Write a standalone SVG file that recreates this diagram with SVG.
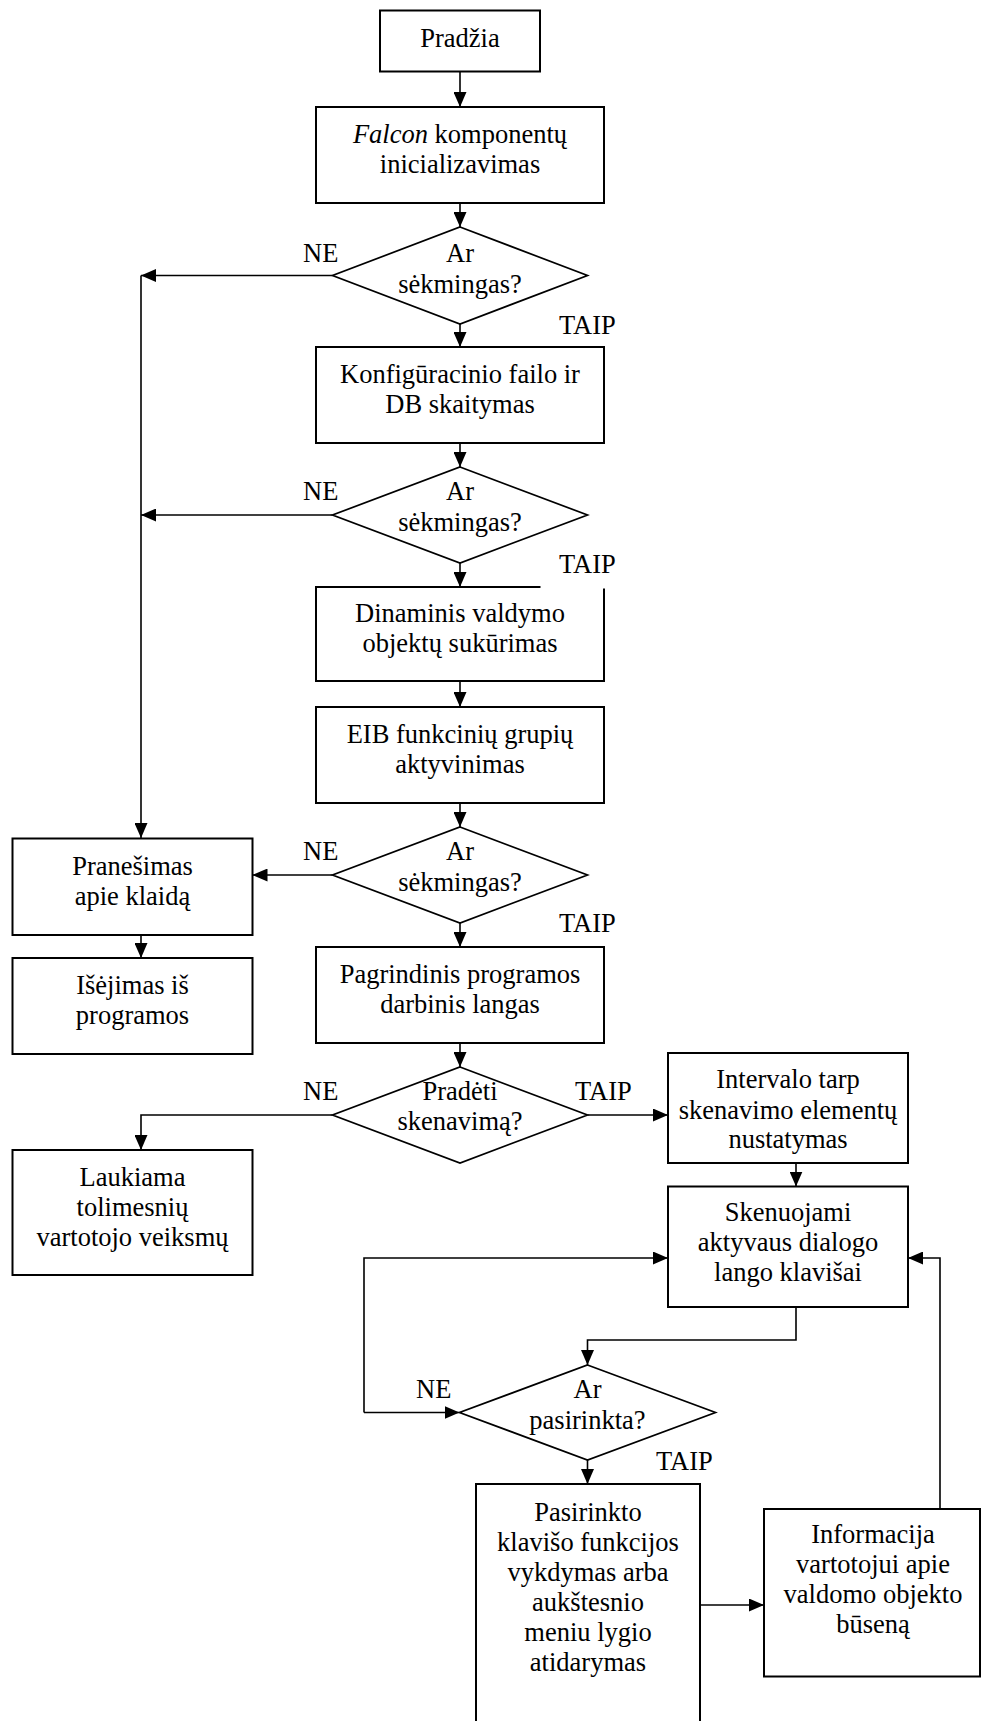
<svg xmlns="http://www.w3.org/2000/svg" width="982" height="1721" viewBox="0 0 982 1721">
  <style>
    .box { fill: #ffffff; stroke: #000000; stroke-width: 2; }
    .dia { fill: #ffffff; stroke: #000000; stroke-width: 1.7; }
    .edge { fill: none; stroke: #000000; stroke-width: 1.6; }
    text { font-family: "Liberation Serif", "Times New Roman", serif; font-size: 26.5px; fill: #000000; }
    .c { text-anchor: middle; }
    .it { font-style: italic; }
  </style>
  <defs>
    <marker id="arrow" markerUnits="userSpaceOnUse" markerWidth="15" markerHeight="13" refX="15" refY="6.5" orient="auto">
      <path d="M0,0 L15,6.5 L0,13 Z" fill="#000000"/>
    </marker>
  </defs>
  <rect width="982" height="1721" fill="#ffffff"/>

  <!-- connectors -->
  <g id="connectors">
    <path class="edge" d="M460 71.5 V107" marker-end="url(#arrow)"/>
    <path class="edge" d="M460 203 V227" marker-end="url(#arrow)"/>
    <path class="edge" d="M460 324 V347" marker-end="url(#arrow)"/>
    <path class="edge" d="M332.5 275.5 H141" marker-end="url(#arrow)"/>
    <path class="edge" d="M141 275.5 V838" marker-end="url(#arrow)"/>
    <path class="edge" d="M460 443 V467" marker-end="url(#arrow)"/>
    <path class="edge" d="M332.5 515 H141" marker-end="url(#arrow)"/>
    <path class="edge" d="M460 563 V587" marker-end="url(#arrow)"/>
    <path class="edge" d="M460 681 V707" marker-end="url(#arrow)"/>
    <path class="edge" d="M460 803 V827" marker-end="url(#arrow)"/>
    <path class="edge" d="M332.5 875 H252.5" marker-end="url(#arrow)"/>
    <path class="edge" d="M460 923 V947" marker-end="url(#arrow)"/>
    <path class="edge" d="M141 935 V958" marker-end="url(#arrow)"/>
    <path class="edge" d="M460 1043 V1067" marker-end="url(#arrow)"/>
    <path class="edge" d="M587.5 1115 H668" marker-end="url(#arrow)"/>
    <path class="edge" d="M332.5 1115 H141 V1150" marker-end="url(#arrow)"/>
    <path class="edge" d="M796 1163 V1186.5" marker-end="url(#arrow)"/>
    <path class="edge" d="M796 1307 V1340 H587.5 V1365" marker-end="url(#arrow)"/>
    <path class="edge" d="M364 1412.5 H459.5" marker-end="url(#arrow)"/>
    <path class="edge" d="M364 1412.5 V1258 H668" marker-end="url(#arrow)"/>
    <path class="edge" d="M587.5 1460 V1484" marker-end="url(#arrow)"/>
    <path class="edge" d="M700 1605 H764" marker-end="url(#arrow)"/>
    <path class="edge" d="M940 1509 V1258 H908" marker-end="url(#arrow)"/>
  </g>

  <!-- process boxes -->
  <g id="start">
    <rect class="box" x="380" y="10.5" width="160" height="61"/>
    <text class="c" x="460" y="47">Pradžia</text>
  </g>
  <g id="init">
    <rect class="box" x="316" y="107" width="288" height="96"/>
    <text class="c" x="460" y="143"><tspan class="it">Falcon</tspan> komponentų</text>
    <text class="c" x="460" y="173">inicializavimas</text>
  </g>
  <g id="check1">
    <polygon class="dia" points="460,227 587.5,275.5 460,324 332.5,275.5"/>
    <text class="c" x="460" y="262">Ar</text>
    <text class="c" x="460" y="293">sėkmingas?</text>
    <text x="303" y="262">NE</text>
    <text x="559" y="334">TAIP</text>
  </g>
  <g id="config">
    <rect class="box" x="316" y="347" width="288" height="96"/>
    <text class="c" x="460" y="383">Konfigūracinio failo ir</text>
    <text class="c" x="460" y="413">DB skaitymas</text>
  </g>
  <g id="check2">
    <polygon class="dia" points="460,467 587.5,515 460,563 332.5,515"/>
    <text class="c" x="460" y="500">Ar</text>
    <text class="c" x="460" y="531">sėkmingas?</text>
    <text x="303" y="500">NE</text>
  </g>
  <g id="objects">
    <rect class="box" x="316" y="587" width="288" height="94"/>
    <text class="c" x="460" y="622">Dinaminis valdymo</text>
    <text class="c" x="460" y="652">objektų sukūrimas</text>
  </g>
  <g id="check2-yes">
    <rect x="540.5" y="548" width="100" height="40.5" fill="#ffffff"/>
    <text x="559" y="573">TAIP</text>
  </g>
  <g id="eib">
    <rect class="box" x="316" y="707" width="288" height="96"/>
    <text class="c" x="460" y="743">EIB funkcinių grupių</text>
    <text class="c" x="460" y="773">aktyvinimas</text>
  </g>
  <g id="check3">
    <polygon class="dia" points="460,827 587.5,875 460,923 332.5,875"/>
    <text class="c" x="460" y="860">Ar</text>
    <text class="c" x="460" y="891">sėkmingas?</text>
    <text x="303" y="860">NE</text>
    <text x="559" y="932">TAIP</text>
  </g>
  <g id="error">
    <rect class="box" x="12.5" y="838.5" width="240" height="96.5"/>
    <text class="c" x="132.5" y="874.5">Pranešimas</text>
    <text class="c" x="132.5" y="904.5">apie klaidą</text>
  </g>
  <g id="exit">
    <rect class="box" x="12.5" y="958" width="240" height="96"/>
    <text class="c" x="132.5" y="994">Išėjimas iš</text>
    <text class="c" x="132.5" y="1024">programos</text>
  </g>
  <g id="main-window">
    <rect class="box" x="316" y="947" width="288" height="96"/>
    <text class="c" x="460" y="983">Pagrindinis programos</text>
    <text class="c" x="460" y="1013">darbinis langas</text>
  </g>
  <g id="start-scan">
    <polygon class="dia" points="460,1067 587.5,1115 460,1163 332.5,1115"/>
    <text class="c" x="460" y="1100">Pradėti</text>
    <text class="c" x="460" y="1130">skenavimą?</text>
    <text x="303" y="1100">NE</text>
    <text x="575" y="1100">TAIP</text>
  </g>
  <g id="wait">
    <rect class="box" x="12.5" y="1150" width="240" height="125"/>
    <text class="c" x="132.5" y="1186">Laukiama</text>
    <text class="c" x="132.5" y="1216">tolimesnių</text>
    <text class="c" x="132.5" y="1246">vartotojo veiksmų</text>
  </g>
  <g id="interval">
    <rect class="box" x="668" y="1053" width="240" height="110"/>
    <text class="c" x="788" y="1088">Intervalo tarp</text>
    <text class="c" x="788" y="1119">skenavimo elementų</text>
    <text class="c" x="788" y="1148">nustatymas</text>
  </g>
  <g id="scan-keys">
    <rect class="box" x="668" y="1186.5" width="240" height="120.5"/>
    <text class="c" x="788" y="1221">Skenuojami</text>
    <text class="c" x="788" y="1251">aktyvaus dialogo</text>
    <text class="c" x="788" y="1281">lango klavišai</text>
  </g>
  <g id="selected">
    <polygon class="dia" points="587.5,1365 715.5,1412.5 587.5,1460 459.5,1412.5"/>
    <text class="c" x="587.5" y="1398">Ar</text>
    <text class="c" x="587.5" y="1429">pasirinkta?</text>
    <text x="416" y="1398">NE</text>
    <text x="656" y="1470">TAIP</text>
  </g>
  <g id="execute">
    <rect class="box" x="476" y="1484" width="224" height="262"/>
    <text class="c" x="588" y="1521">Pasirinkto</text>
    <text class="c" x="588" y="1551">klavišo funkcijos</text>
    <text class="c" x="588" y="1581">vykdymas arba</text>
    <text class="c" x="588" y="1611">aukštesnio</text>
    <text class="c" x="588" y="1641">meniu lygio</text>
    <text class="c" x="588" y="1671">atidarymas</text>
  </g>
  <g id="status">
    <rect class="box" x="764" y="1509" width="216" height="167.5"/>
    <text class="c" x="873" y="1543">Informacija</text>
    <text class="c" x="873" y="1573">vartotojui apie</text>
    <text class="c" x="873" y="1603">valdomo objekto</text>
    <text class="c" x="873" y="1633">būseną</text>
  </g>
</svg>
